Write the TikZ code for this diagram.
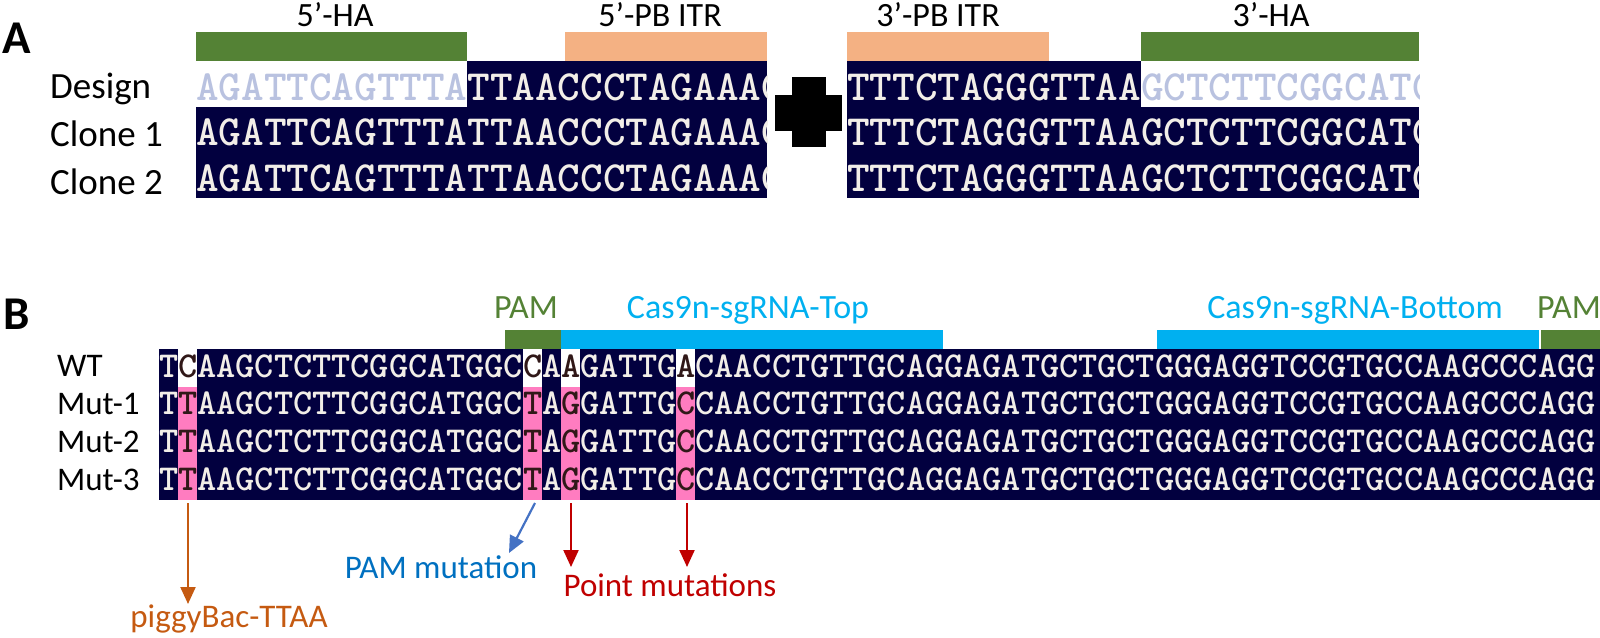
\documentclass[tikz,border=0pt]{standalone}
\usepackage{fontspec}
\setmainfont{Carlito}
\newfontfamily\seqfont{lmmonolt10-bold}[Extension=.otf]
\usepackage{tikz}
\usetikzlibrary{arrows.meta}
\definecolor{navy}{HTML}{02003F}
\definecolor{seqlt}{HTML}{F2EEE8}
\definecolor{seqpale}{HTML}{B9C2E0}
\definecolor{seqdk}{HTML}{301818}
\definecolor{hagreen}{HTML}{548235}
\definecolor{itr}{HTML}{F4B183}
\definecolor{sgblue}{HTML}{00B0F0}
\definecolor{pinkhl}{HTML}{FF7CC0}
\definecolor{ttaaor}{HTML}{C55A11}
\definecolor{pamarr}{HTML}{4472C4}
\definecolor{pamtxt}{HTML}{0070C0}
\definecolor{ptred}{HTML}{C00000}
\tikzset{
  panel/.style  ={anchor=base west, inner sep=0pt, font=\fontsize{47}{50}\selectfont\bfseries},
  rowlbl/.style ={anchor=base west, inner sep=0pt, font=\fontsize{37}{40}\selectfont},
  rowlblb/.style={anchor=base west, inner sep=0pt, font=\fontsize{33}{36}\selectfont},
  toplbl/.style ={anchor=base, inner sep=0pt, font=\fontsize{34}{36}\selectfont},
  note/.style   ={anchor=base, inner sep=0pt, font=\fontsize{33}{36}\selectfont},
  seqA/.style   ={anchor=base west, inner sep=0pt, text=seqlt, font=\seqfont\fontsize{43.05}{46}\selectfont},
  seqB/.style   ={anchor=base west, inner sep=0pt, text=seqlt, font=\seqfont\fontsize{36.48}{38}\selectfont},
  arr/.style    ={-{Triangle[length=17pt,width=15pt]}, line width=2.2pt},
}
\newcommand\mutc[1]{\textcolor{seqdk}{#1}}

\begin{document}
\begin{tikzpicture}[x=1pt,y=-1pt]
  \useasboundingbox (0,0) rectangle (1600,637);

  % ---- A: design vs clones
  \node[panel] (pa) at (2,53) {A};
  \node[toplbl] (ha5)  at (335,26)  {5’-HA};
  \node[toplbl] (itr5) at (660,26)  {5’-PB ITR};
  \node[toplbl] (itr3) at (938,26)  {3’-PB ITR};
  \node[toplbl] (ha3)  at (1271,26) {3’-HA};
  \fill[hagreen] (196,32) rectangle (467,61);
  \fill[itr] (565,32) rectangle (767,61);
  \fill[itr] (847,32) rectangle (1049,61);
  \fill[hagreen] (1141,32) rectangle (1419,61);

  \foreach \t/\y/\n in {Design/98/des, Clone 1/146/cl1, Clone 2/194/cl2}
    \node[rowlbl] (\n) at (50,\y) {\t};

  \fill[navy] (196,61) rectangle (767,198);
  \fill[white] (196,61) rectangle (467,107);
  \fill[navy] (847,61) rectangle (1419,198);
  \fill[white] (1141,61) rectangle (1419,107);
  \begin{scope}
    \clip (196,61) rectangle (767,198);
    \node[seqA] (la0) at (196,100) {\textcolor{seqpale}{AGATTCAGTTTA}TTAACCCTAGAAAG};
    \node[seqA] (la1) at (196,145) {AGATTCAGTTTATTAACCCTAGAAAG};
    \node[seqA] (la2) at (196,191) {AGATTCAGTTTATTAACCCTAGAAAG};
  \end{scope}
  \begin{scope}
    \clip (847,61) rectangle (1419,198);
    \node[seqA] (ra0) at (847,100) {TTTCTAGGGTTAA\textcolor{seqpale}{GCTCTTCGGCATG}};
    \node[seqA] (ra1) at (847,145) {TTTCTAGGGTTAAGCTCTTCGGCATG};
    \node[seqA] (ra2) at (847,191) {TTTCTAGGGTTAAGCTCTTCGGCATG};
  \end{scope}
  % plus
  \fill (791.5,77) rectangle (825.5,147);
  \fill (775,95) rectangle (842,131);

  % ---- B: WT vs mutants
  \node[panel] (pb) at (3,329) {B};
  \node[toplbl, text=hagreen] (pam1) at (526,318)  {PAM};
  \node[toplbl, text=sgblue]  (sgt)  at (748,318)  {Cas9n-sgRNA-Top};
  \node[toplbl, text=sgblue]  (sgb)  at (1355,318) {Cas9n-sgRNA-Bottom};
  \node[toplbl, text=hagreen] (pam2) at (1569,318) {PAM};
  \fill[hagreen] (505,330) rectangle (561,349);
  \fill[sgblue] (561,330) rectangle (943,349);
  \fill[sgblue] (1157,330) rectangle (1539,349);
  \fill[hagreen] (1541,330) rectangle (1600,349);

  \foreach \t/\y/\n in {WT/376/wt, Mut-1/414/m1, Mut-2/452/m2, Mut-3/490/m3}
    \node[rowlblb] (\n) at (57,\y) {\t};

  \fill[navy] (159,349) rectangle (1600,500);
  \foreach \p in {2,20,22,28} {
    \fill[white] ({159+(\p-1)*19.15},349) rectangle ++(19.15,37.75);
    \fill[pinkhl] ({159+(\p-1)*19.15},386.75) rectangle ++(19.15,113.25);
  }
  \begin{scope}
    \clip (159,349) rectangle (1600,500);
    \node[seqB] (wts) at (159,377) {T\mutc{C}AAGCTCTTCGGCATGGC\mutc{C}A\mutc{A}GATTG\mutc{A}CAACCTGTTGCAGGAGATGCTGCTGGGAGGTCCGTGCCAAGCCCAGG};
    \foreach \y/\n in {414.75/m1s, 452.5/m2s, 490.25/m3s}
      \node[seqB] (\n) at (159,\y) {T\mutc{T}AAGCTCTTCGGCATGGC\mutc{T}A\mutc{G}GATTG\mutc{C}CAACCTGTTGCAGGAGATGCTGCTGGGAGGTCCGTGCCAAGCCCAGG};
  \end{scope}

  % annotations
  \coordinate (ttaa-s) at (188,503);
  \coordinate (ttaa-e) at (188,604);
  \coordinate (pam-s)  at (535,503);
  \coordinate (pam-e)  at (509,553);
  \coordinate (pt1-s)  at (571,503);
  \coordinate (pt1-e)  at (571,567);
  \coordinate (pt2-s)  at (687,503);
  \coordinate (pt2-e)  at (687,567);
  \draw[arr, ttaaor] (ttaa-s) -- (ttaa-e);
  \draw[arr, pamarr] (pam-s) -- (pam-e);
  \draw[arr, ptred] (pt1-s) -- (pt1-e);
  \draw[arr, ptred] (pt2-s) -- (pt2-e);
  \node[note, text=ttaaor] (ttaa) at (229,627) {piggyBac-TTAA};
  \node[note, text=pamtxt] (pamm) at (441,578) {PAM mutation};
  \node[note, text=ptred]  (ptm)  at (670,596) {Point mutations};
\end{tikzpicture}
\end{document}
